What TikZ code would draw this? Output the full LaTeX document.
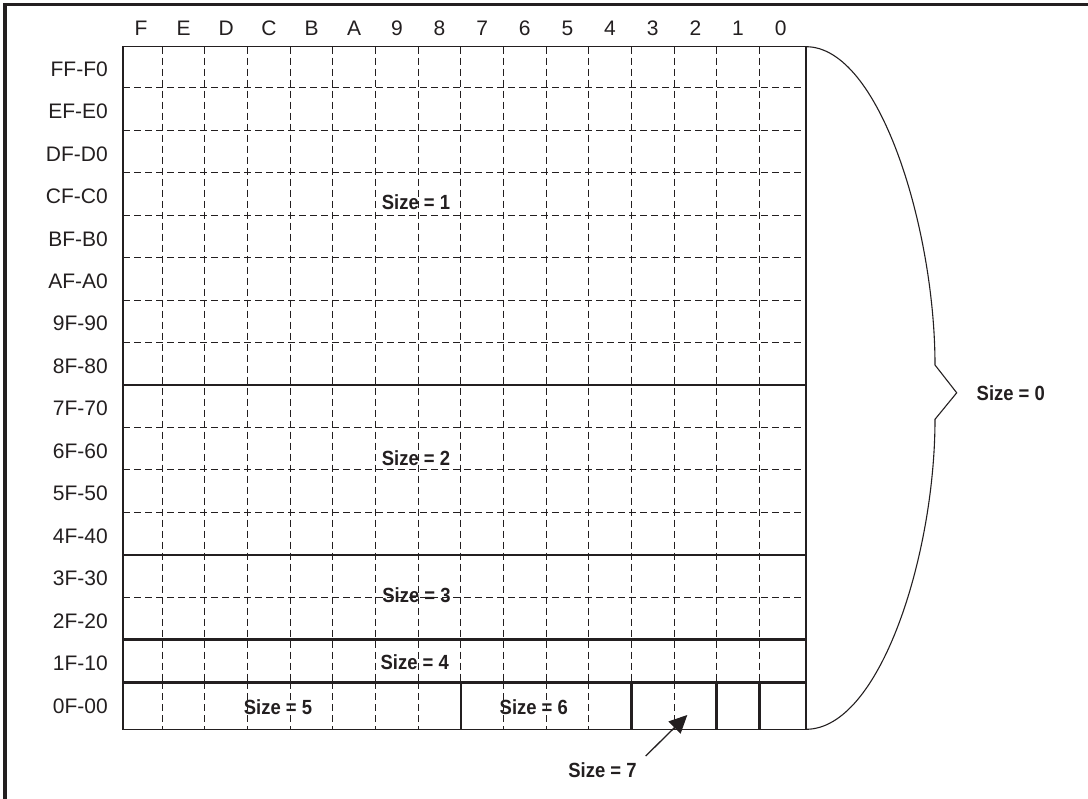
\documentclass[tikz,border=0pt]{standalone}
\usepackage{fontspec}
\setmainfont{Liberation Sans}
\newfontfamily\sizefont[FakeStretch=0.9]{Liberation Sans}
\usetikzlibrary{arrows.meta}
\definecolor{ink}{HTML}{231F20}

\begin{document}
\begin{tikzpicture}[x=1pt, y=-1pt,
  lbl/.style={font=\fontsize{21}{24}\selectfont, inner sep=0pt, text=ink},
  rowlbl/.style={lbl, anchor=east},
  szlbl/.style={font=\sizefont\bfseries\fontsize{20.5}{24}\selectfont, inner sep=0pt, text=ink},
  cellrule/.style={draw=ink, line width=1pt, dash pattern=on 7pt off 4pt},
  sizerule/.style={draw=ink, line width=2.6pt},
  edge/.style={draw=ink, line width=1.3pt},
  brace/.style={draw=ink, line width=1.1pt},
  ptr/.style={draw=ink, -{Triangle[length=18pt,width=17pt]}, line width=1.3pt}]
\useasboundingbox (0,0) rectangle (1088,799);
\draw[draw=ink, line width=3.5pt] (5,4.7) rectangle (1100,810);

% grid
\foreach \k in {1,...,15}
  \draw[cellrule] ({119.7+42.64*\k},46.7) -- ({119.7+42.64*\k},682.3);
\foreach \k in {1,...,7,9,10,11,13}
  \draw[cellrule] ({119.7+42.64*\k},682.3) -- ({119.7+42.64*\k},729.3);
\foreach \k in {8,12,14,15}
  \draw[sizerule] ({119.7+42.64*\k},682.3) -- ({119.7+42.64*\k},729.3);
\foreach \k in {1,...,7,9,10,11,13}
  \draw[cellrule] (123,{45.2+42.47*\k}) -- (806,{45.2+42.47*\k});
\foreach \k in {8,12,14,15}
  \draw[sizerule] (123,{45.2+42.47*\k}) -- (806,{45.2+42.47*\k});
\draw[edge] (123,46.7) rectangle (806,729.3);

% column and row labels
\foreach \t [count=\c from 0] in {F,E,D,C,B,A,9,8,7,6,5,4,3,2,1,0}
  \node[lbl] (c\c) at ({119.7+42.64*(\c+0.5)},28.3) {\t};
\foreach \t [count=\r from 0] in {FF-F0,EF-E0,DF-D0,CF-C0,BF-B0,AF-A0,9F-90,8F-80,
    7F-70,6F-60,5F-50,4F-40,3F-30,2F-20,1F-10,0F-00}
  \node[rowlbl] (r\r) at (108,{45.2+42.47*(\r+0.5)+2.5}) {\t};

% sizes
\node[szlbl] (s1) at (416,202.5) {Size = 1};
\node[szlbl] (s2) at (416,458) {Size = 2};
\node[szlbl] (s3) at (416.5,594.7) {Size = 3};
\node[szlbl] (s4) at (414.7,662.5) {Size = 4};
\node[szlbl] (s5) at (278,706.7) {Size = 5};
\node[szlbl] (s6) at (533.8,706.7) {Size = 6};
\node[szlbl] (s7) at (602.5,770) {Size = 7};
\node[szlbl] (s0) at (1010.8,392.8) {Size = 0};

\coordinate (s7tail) at (645.7,756);
\coordinate (s7tip) at (687.3,715);
\draw[ptr] (s7tail) -- (s7tip);

% brace
\draw[brace] (806,46.7) .. controls (880,46.7) and (935,230) .. (935,365)
  -- (956.7,392.8) -- (935,419.3)
  .. controls (935,555) and (880,729.3) .. (806,729.3);
\end{tikzpicture}
\end{document}
